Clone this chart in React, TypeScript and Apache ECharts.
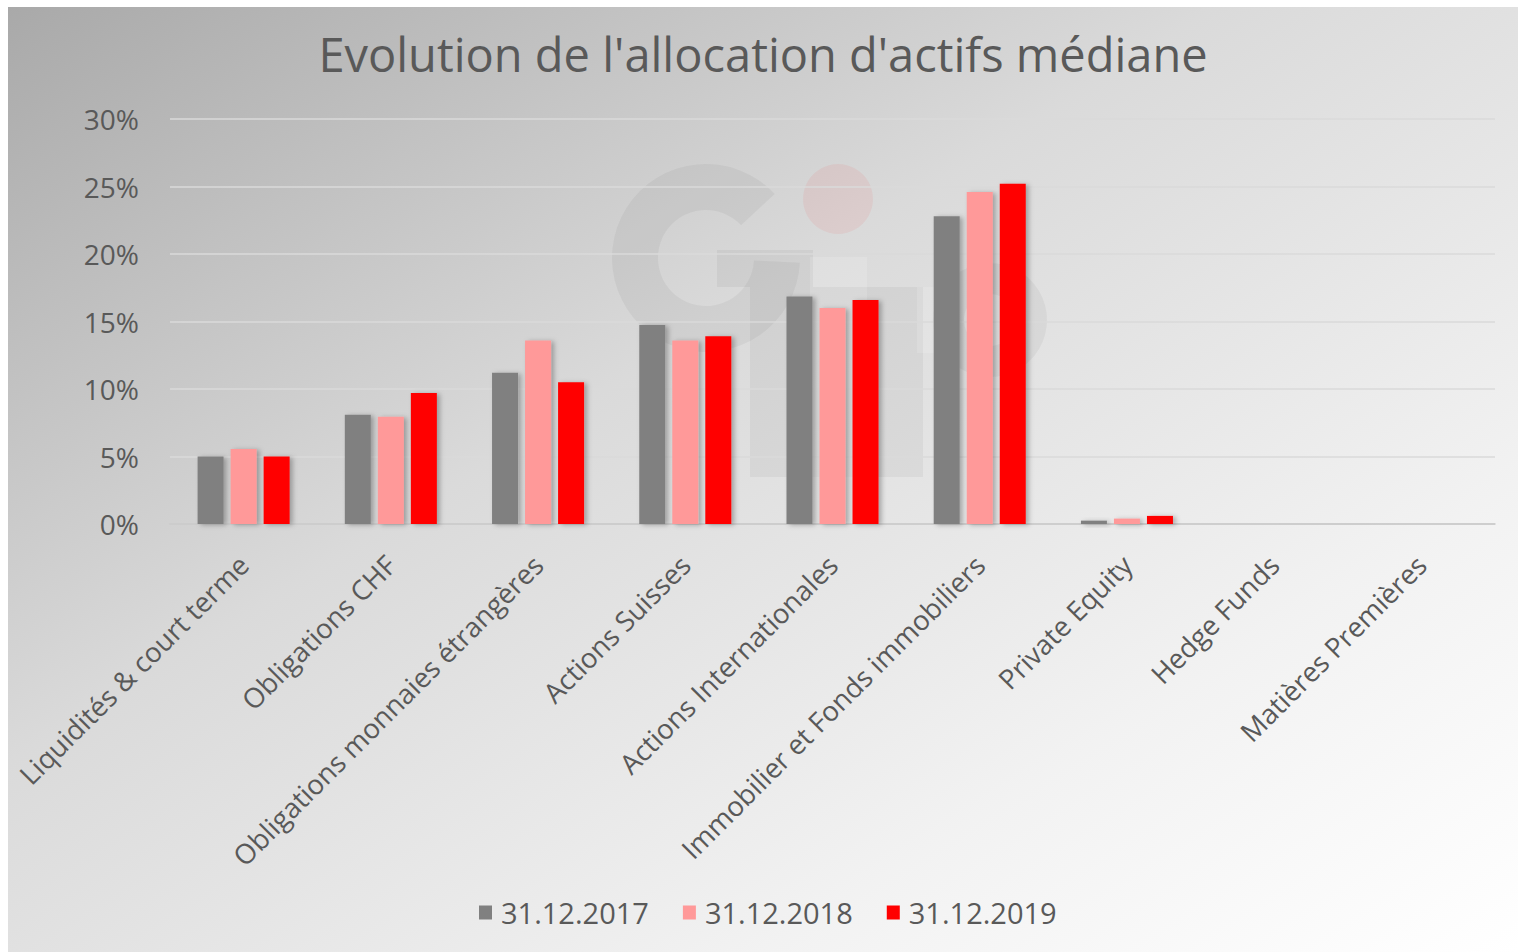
import React, { useEffect, useRef } from "react";
import * as echarts from "echarts";

const categories = [
  "Liquidités & court terme",
  "Obligations CHF",
  "Obligations monnaies étrangères",
  "Actions Suisses",
  "Actions Internationales",
  "Immobilier et Fonds immobiliers",
  "Private Equity",
  "Hedge Funds",
  "Matières Premières",
];
const seriesNames = ["31.12.2017", "31.12.2018", "31.12.2019"];
const values2017 = [5.0, 8.1, 11.2, 14.75, 16.85, 22.8, 0.25, 0, 0];
const values2018 = [5.55, 7.95, 13.6, 13.6, 16.0, 24.6, 0.4, 0, 0];
const values2019 = [5.0, 9.7, 10.5, 13.9, 16.6, 25.2, 0.6, 0, 0];
const colors = ["#808080", "#ff9999", "#ff0000"];
const yTicks = [0, 5, 10, 15, 20, 25, 30];

const FONT = "'Open Sans', 'Noto Sans', sans-serif";
const TXT = "#595959";

export default function App() {
  const ref = useRef<HTMLDivElement>(null);
  useEffect(() => {
    if (!ref.current) return;
    const chart = echarts.init(ref.current, null, { renderer: "svg" });
    const data = [values2017, values2018, values2019];
    const ox = 8;
    const oy = 7;
    const wm = "rgba(0,0,0,0.045)";
    const wl = "rgba(255,255,255,0.14)";
    chart.setOption({
      animation: false,
      backgroundColor: {
        type: "linear",
        x: 0,
        y: 0,
        x2: 1,
        y2: 1,
        colorStops: [
          { offset: 0, color: "#a9a9a9" },
          { offset: 0.4, color: "#dadada" },
          { offset: 0.75, color: "#f2f2f2" },
          { offset: 1, color: "#ffffff" },
        ],
      },
      title: {
        text: "Evolution de l'allocation d'actifs médiane",
        left: "center",
        top: 18,
        textStyle: { fontFamily: FONT, fontSize: 47, fontWeight: "normal", color: TXT },
      },
      graphic: [
        {
          type: "group",
          silent: true,
          z: 0,
          children: [
            {
              type: "sector",
              shape: { cx: 706 - ox, cy: 258 - oy, r: 94, r0: 48, startAngle: 0.05, endAngle: -0.75, clockwise: true },
              style: { fill: wm },
            },
            { type: "rect", shape: { x: 717 - ox, y: 250 - oy, width: 96, height: 37 }, style: { fill: wm } },
            { type: "circle", shape: { cx: 838 - ox, cy: 199 - oy, r: 35 }, style: { fill: "rgba(255,0,0,0.06)" } },
            { type: "rect", shape: { x: 750 - ox, y: 287 - oy, width: 173, height: 190 }, style: { fill: wm } },
            { type: "rect", shape: { x: 810 - ox, y: 257 - oy, width: 57, height: 220 }, style: { fill: wl } },
            { type: "ring", shape: { cx: 990 - ox, cy: 320 - oy, r: 57, r0: 26 }, style: { fill: wm } },
            { type: "rect", shape: { x: 917 - ox, y: 287 - oy, width: 26, height: 66 }, style: { fill: wl } },
          ],
        },
      ],
      legend: {
        data: seriesNames,
        bottom: 20,
        left: 466,
        icon: "rect",
        itemWidth: 13,
        itemHeight: 14,
        itemGap: 34,
        textStyle: { fontFamily: FONT, fontSize: 29, color: TXT, padding: [0, 0, 0, 4] },
      },
      grid: { left: 162, right: 23, top: 112, bottom: 428, containLabel: false },
      xAxis: {
        type: "category",
        data: categories,
        axisLine: { lineStyle: { color: "#c8c8c8", width: 1.5 } },
        axisTick: { show: false },
        axisLabel: {
          rotate: 45,
          interval: 0,
          margin: 36,
          fontFamily: FONT,
          fontSize: 27.5,
          color: TXT,
        },
      },
      yAxis: {
        type: "value",
        min: 0,
        max: 30,
        interval: 5,
        axisLine: { show: false },
        axisTick: { show: false },
        splitLine: { lineStyle: { color: "#dadada", width: 1.5 } },
        axisLabel: {
          margin: 31,
          fontFamily: FONT,
          fontSize: 28,
          color: TXT,
          formatter: (v: number) => (yTicks.includes(v) ? v + "%" : ""),
        },
      },
      series: seriesNames.map((name, i) => ({
        name,
        type: "bar",
        data: data[i],
        barWidth: 26,
        barGap: "27%",
        itemStyle: {
          color: colors[i],
          shadowColor: "rgba(0,0,0,0.28)",
          shadowBlur: 5,
          shadowOffsetX: 3,
          shadowOffsetY: 1,
        },
      })),
    });
    return () => chart.dispose();
  }, []);
  return (
    <div
      ref={ref}
      style={{ position: "fixed", left: 8, top: 7, width: 1510, height: 945 }}
    />
  );
}
